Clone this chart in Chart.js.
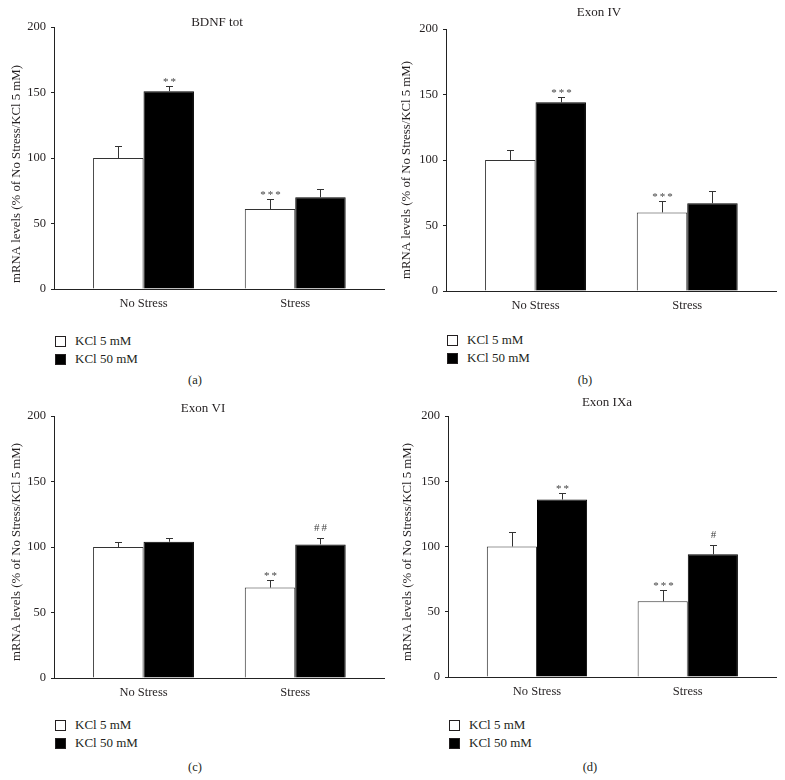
<!DOCTYPE html>
<html>
<head>
<meta charset="utf-8">
<script src="https://cdn.jsdelivr.net/npm/chart.js@4.4.0/dist/chart.umd.min.js"></script>
<style>
  body { margin: 0; background: #fff; width: 785px; height: 780px; position: relative; overflow: hidden;
         font-family: "Liberation Serif", "DejaVu Serif", serif; color: #231f20; }
  .panel { position: absolute; width: 392px; height: 390px; }
  .panel canvas { position: absolute; left: 0; top: 0; }
  .legend { position: absolute; font-size: 13px; line-height: 18px; }
  .legend div { display: flex; align-items: center; }
  .legend span.box { display: inline-block; width: 11px; height: 11px; border: 1px solid #231f20; margin-right: 9px; box-sizing: border-box; }
  .plabel { position: absolute; font-size: 12.5px; transform: translate(-50%, -50%); }
</style>
</head>
<body>

<div class="panel" id="pa" style="left:0;top:0"></div>
<div class="panel" id="pb" style="left:390px;top:0"></div>
<div class="panel" id="pc" style="left:0;top:390px"></div>
<div class="panel" id="pd" style="left:390px;top:390px"></div>

<script>
// ---- Data ----
const categories = ['No Stress', 'Stress'];
const seriesNames = ['KCl 5 mM', 'KCl 50 mM'];
const yTicks = [0, 50, 100, 150, 200];
const yTitle = 'mRNA levels (% of No Stress/KCl 5 mM)';

// (a) BDNF tot
const bdnfKcl5 = [100, 61];
const bdnfKcl50 = [151, 70];
const bdnfErr5 = [9, 8];
const bdnfErr50 = [4, 6];
const bdnfSig5 = ['', '***'];
const bdnfSig50 = ['**', ''];

// (b) Exon IV
const exon4Kcl5 = [100, 60];
const exon4Kcl50 = [144, 67];
const exon4Err5 = [8, 9];
const exon4Err50 = [4, 9];
const exon4Sig5 = ['', '***'];
const exon4Sig50 = ['***', ''];

// (c) Exon VI
const exon6Kcl5 = [100, 69];
const exon6Kcl50 = [104, 102];
const exon6Err5 = [4, 6];
const exon6Err50 = [3, 5];
const exon6Sig5 = ['', '**'];
const exon6Sig50 = ['', '##'];

// (d) Exon IXa
const exon9Kcl5 = [100, 58];
const exon9Kcl50 = [136, 94];
const exon9Err5 = [11, 9];
const exon9Err50 = [5, 7];
const exon9Sig5 = ['', '***'];
const exon9Sig50 = ['**', '#'];

// ---- Panel layout ----
const panels = [
  { el: 'pa', title: 'BDNF tot', tag: '(a)', w: 390, area: { left: 54, top: 27, right: 384, bottom: 289 }, titleXY: [217, 23],
    yTitleXY: [17, 174], legendY: 332, tagXY: [195, 380],
    values: [bdnfKcl5, bdnfKcl50], errs: [bdnfErr5, bdnfErr50], sigs: [bdnfSig5, bdnfSig50] },
  { el: 'pb', title: 'Exon IV', tag: '(b)', w: 395, area: { left: 56, top: 29, right: 386, bottom: 291 }, titleXY: [209, 13],
    yTitleXY: [17, 170], legendY: 331, tagXY: [195, 380],
    values: [exon4Kcl5, exon4Kcl50], errs: [exon4Err5, exon4Err50], sigs: [exon4Sig5, exon4Sig50] },
  { el: 'pc', title: 'Exon VI', tag: '(c)', w: 390, area: { left: 54, top: 26, right: 384, bottom: 288 }, titleXY: [203, 19],
    yTitleXY: [17, 162], legendY: 326, tagXY: [195, 377],
    values: [exon6Kcl5, exon6Kcl50], errs: [exon6Err5, exon6Err50], sigs: [exon6Sig5, exon6Sig50] },
  { el: 'pd', title: 'Exon IXa', tag: '(d)', w: 395, area: { left: 58, top: 26, right: 386, bottom: 287 }, titleXY: [217, 13],
    yTitleXY: [18, 162], legendY: 326, tagXY: [200, 377],
    values: [exon9Kcl5, exon9Kcl50], errs: [exon9Err5, exon9Err50], sigs: [exon9Sig5, exon9Sig50] },
];

const CANVAS_H = 320;
const ink = '#231f20';
const fontFamily = '"Liberation Serif", "DejaVu Serif", serif';

// ---- Error bars, stars, titles ----
const errorBarPlugin = {
  id: 'errorBars',
  afterDatasetsDraw(chart, args, opts) {
    const ctx = chart.ctx;
    const y = chart.scales.y;
    ctx.save();
    chart.data.datasets.forEach((ds, di) => {
      const meta = chart.getDatasetMeta(di);
      meta.data.forEach((bar, i) => {
        const v = ds.data[i].y;
        const top = Math.round(y.getPixelForValue(v + ds.errors[i])) + 0.5;
        const x = Math.round(bar.x) + 0.5;
        ctx.strokeStyle = '#333';
        ctx.lineWidth = 1;
        ctx.beginPath();
        ctx.moveTo(x, bar.y);
        ctx.lineTo(x, top);
        ctx.moveTo(x - 3.5, top);
        ctx.lineTo(x + 3.5, top);
        ctx.stroke();
        const s = ds.sig[i];
        if (s) {
          ctx.fillStyle = '#444';
          ctx.font = '11px ' + fontFamily;
          ctx.letterSpacing = '2px';
          ctx.textAlign = 'center';
          ctx.textBaseline = 'alphabetic';
          ctx.fillText(s, x + 1, top - (s[0] === '#' ? 8 : 2));
        }
      });
    });
    ctx.letterSpacing = '0px';
    ctx.fillStyle = ink;
    ctx.font = '13px ' + fontFamily;
    ctx.textAlign = 'center';
    ctx.textBaseline = 'middle';
    ctx.fillText(opts.text, opts.x, opts.y);
    // y-axis title (sits a bit below the plot centre in the original)
    ctx.translate(opts.yx, opts.yy);
    ctx.rotate(-Math.PI / 2);
    ctx.font = '12.8px ' + fontFamily;
    ctx.fillText(yTitle, 0, 0);
    ctx.restore();
  }
};

panels.forEach(p => {
  const host = document.getElementById(p.el);
  const canvas = document.createElement('canvas');
  canvas.width = p.w;
  canvas.height = CANVAS_H;
  host.appendChild(canvas);

  // legend
  const leg = document.createElement('div');
  leg.className = 'legend';
  leg.style.left = (p.area.left + 1) + 'px';
  leg.style.top = p.legendY + 'px';
  leg.innerHTML = seriesNames.map((n, i) =>
    `<div><span class="box" style="background:${i ? '#000' : '#fff'}"></span>${n}</div>`).join('');
  host.appendChild(leg);

  const tag = document.createElement('div');
  tag.className = 'plabel';
  tag.style.left = p.tagXY[0] + 'px';
  tag.style.top = p.tagXY[1] + 'px';
  tag.textContent = p.tag;
  host.appendChild(tag);

  new Chart(canvas, {
    type: 'bar',
    data: {
      datasets: p.values.map((vals, di) => ({
        label: seriesNames[di],
        data: vals.map((v, i) => ({ x: i, y: v })),
        errors: p.errs[di],
        sig: p.sigs[di],
        backgroundColor: di ? '#000' : '#fff',
        borderColor: di ? '#000' : '#333',
        borderWidth: 1,
        borderSkipped: 'bottom',
        categoryPercentage: 0.665,
        barPercentage: 1,
      }))
    },
    options: {
      responsive: false,
      animation: false,
      layout: { padding: { top: p.area.top, right: p.w - p.area.right, left: 0, bottom: 0 } },
      plugins: {
        legend: { display: false },
        tooltip: { enabled: false },
        errorBars: { text: p.title, x: p.titleXY[0], y: p.titleXY[1], yx: p.yTitleXY[0], yy: p.yTitleXY[1] }
      },
      scales: {
        x: {
          type: 'linear',
          offset: false,
          bounds: 'data',
          min: -0.59,
          max: 1.585,
          afterBuildTicks: s => { s.ticks = categories.map((c, i) => ({ value: i })); },
          afterFit: s => { s.height = CANVAS_H - p.area.bottom; },
          grid: { display: false, drawTicks: false, offset: false },
          border: { display: true, color: '#222', width: 1 },
          ticks: {
            callback: v => categories[v],
            color: ink, padding: 7, autoSkip: false, maxRotation: 0,
            font: { family: fontFamily, size: 12.5 }
          }
        },
        y: {
          min: 0,
          max: 200,
          afterBuildTicks: s => { s.ticks = yTicks.map(v => ({ value: v })); },
          afterFit: s => { s.width = p.area.left; },
          grid: { display: true, drawOnChartArea: false, drawTicks: true, tickLength: 3, color: '#222' },
          border: { display: true, color: '#222', width: 1 },
          ticks: { color: ink, padding: 5, font: { family: fontFamily, size: 12.5 } },
          title: { display: false }
        }
      }
    },
    plugins: [errorBarPlugin]
  });
});
</script>
</body>
</html>
